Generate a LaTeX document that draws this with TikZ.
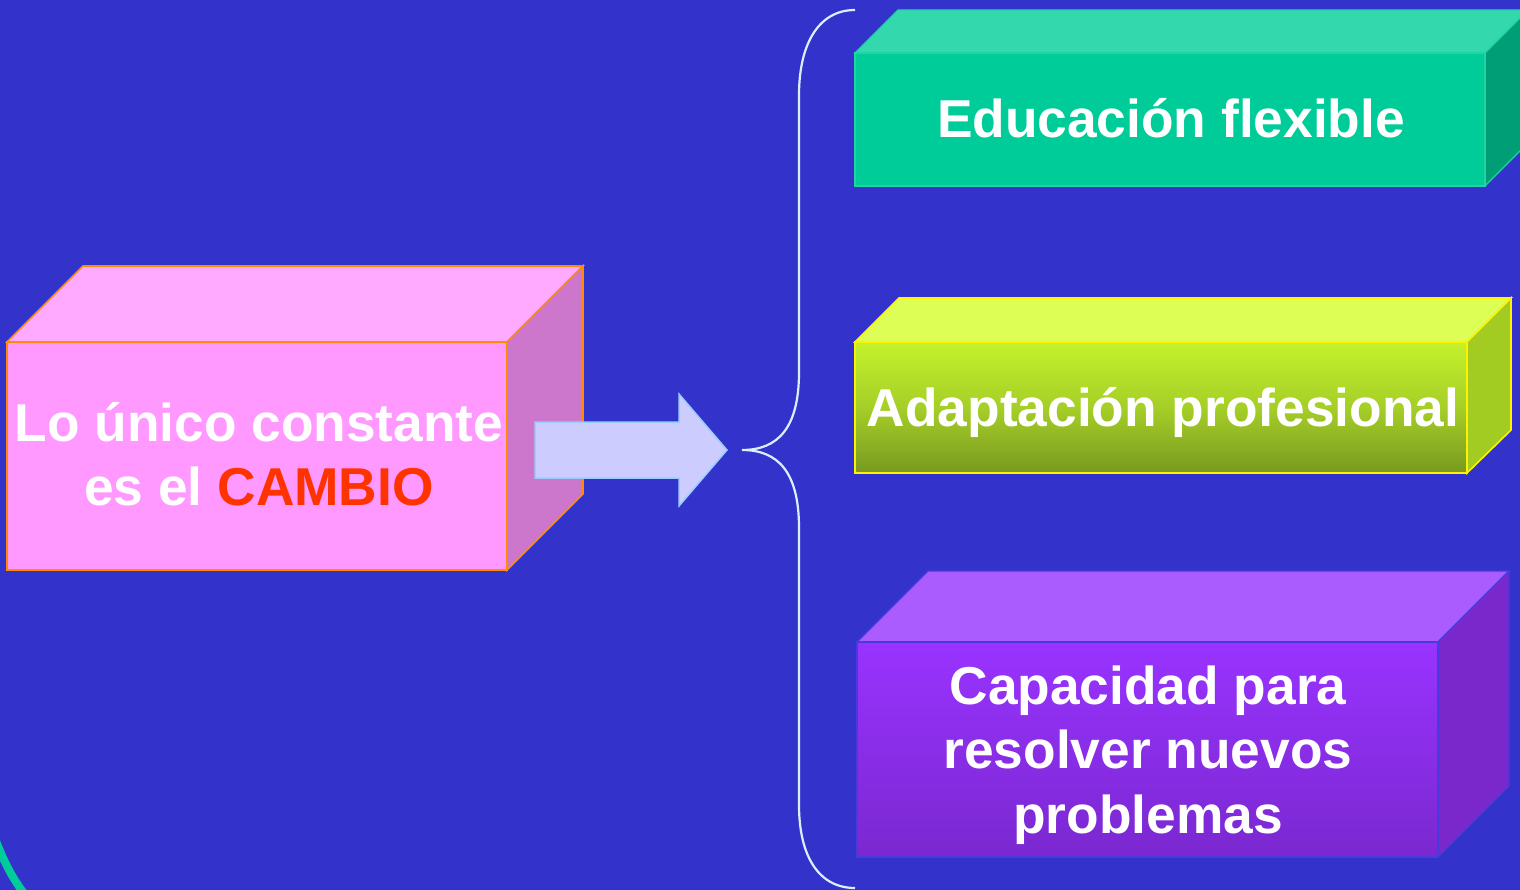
\documentclass[tikz,border=0pt]{standalone}
\usepackage{fontspec}
\setmainfont{Liberation Sans}
\begin{document}
\begin{tikzpicture}[x=1pt,y=-1pt,
  boxtext/.style={font=\fontsize{53.3}{64.5}\selectfont\bfseries, text=white, align=center},
  pinkedge/.style={draw=orange!90!yellow, line width=1.6pt, line join=miter},
  tealedge/.style={draw=teal1edge, line width=1.2pt},
  limeedge/.style={draw=yellow, line width=1.6pt},
  purpedge/.style={draw=purpedgec, line width=1.2pt},
  bracestyle/.style={draw=bracec, line width=2.2pt},
]
\definecolor{bg}{HTML}{3333CC}
\definecolor{pinkfront}{HTML}{FF99FF}
\definecolor{pinktop}{HTML}{FFAAFF}
\definecolor{pinkside}{HTML}{CC77CC}
\definecolor{tealfront}{HTML}{00CC99}
\definecolor{tealtop}{HTML}{33D9AD}
\definecolor{tealside}{HTML}{009E77}
\definecolor{teal1edge}{HTML}{22D4A4}
\definecolor{limetop}{HTML}{DDFF55}
\definecolor{limeside}{HTML}{A2CC22}
\definecolor{limehi}{HTML}{C4F22C}
\definecolor{limelo}{HTML}{789920}
\definecolor{purptop}{HTML}{AA5CFF}
\definecolor{purpside}{HTML}{7A28CC}
\definecolor{purphi}{HTML}{9933FF}
\definecolor{purplo}{HTML}{7A28D0}
\definecolor{purpedgec}{HTML}{4A3ADD}
\definecolor{arrowfill}{HTML}{CCCCFF}
\definecolor{arrowedge}{HTML}{99CCFF}
\definecolor{bracec}{HTML}{DDEEFF}
\definecolor{camb}{HTML}{FF3300}

\fill[bg] (0,0) rectangle (1520,890);
\useasboundingbox (0,0) rectangle (1520,890);
\clip (0,0) rectangle (1520,890);

% teal arc bottom-left
\draw[tealfront, line width=8pt] (-6,836) .. controls (4,862) and (12,878) .. (26,896);

% ---- left pink box ----
\coordinate (Lnw) at (7,342);
\coordinate (Lne) at (507,342);
\coordinate (Lse) at (507,570);
\filldraw[pinkedge, fill=pinktop] (Lnw) -- (83,266) -- (583,266) -- (Lne) -- cycle;
\filldraw[pinkedge, fill=pinkside] (Lne) -- (583,266) -- (583,494) -- (Lse) -- cycle;
\filldraw[pinkedge, fill=pinkfront] (Lnw) rectangle (Lse);
\node[boxtext] (Ltext) at (259,454)
  {Lo único constante\\es el \textcolor{camb}{CAMBIO}};

% ---- arrow ----
\filldraw[fill=arrowfill, draw=arrowedge, line width=1.5pt, line join=miter]
  (535,422) -- (679,422) -- (679,394) -- (727,450) -- (679,506) -- (679,478) -- (535,478) -- cycle;

% ---- brace ----
\coordinate (Btop) at (855,10);
\coordinate (Btip) at (742,450);
\coordinate (Bbot) at (855,888);
\draw[bracestyle] (Btop) .. controls (818,10) and (799,45) .. (799,95)
  -- (799,372) .. controls (799,428) and (778,450) .. (Btip)
  .. controls (778,450) and (799,472) .. (799,528)
  -- (799,805) .. controls (799,855) and (818,888) .. (Bbot);

% ---- top teal box ----
\filldraw[tealedge, fill=tealtop] (855,53) -- (898,10) -- (1528,10) -- (1485,53) -- cycle;
\filldraw[tealedge, fill=tealside] (1485,53) -- (1528,10) -- (1528,143) -- (1485,186) -- cycle;
\filldraw[tealedge, fill=tealfront] (855,53) rectangle (1485,186);
\node[boxtext] (Ttext) at (1171,118) {Educación flexible};

% ---- middle lime box ----
\filldraw[limeedge, fill=limetop] (855,342) -- (899,298) -- (1511,298) -- (1467,342) -- cycle;
\filldraw[limeedge, fill=limeside] (1467,342) -- (1511,298) -- (1511,430) -- (1467,473) -- cycle;
\shade[top color=limehi, bottom color=limelo, middle color=limehi!60!limelo] (855,342) rectangle (1467,473);
\draw[limeedge] (855,342) rectangle (1467,473);
\node[boxtext] (Mtext) at (1163,412) {Adaptación profesional};

% ---- bottom purple box ----
\filldraw[purpedge, fill=purptop] (857,642) -- (928,571) -- (1509,571) -- (1438,642) -- cycle;
\filldraw[purpedge, fill=purpside] (1438,642) -- (1509,571) -- (1509,786) -- (1438,857) -- cycle;
\shade[top color=purphi, bottom color=purplo] (857,642) rectangle (1438,857);
\draw[purpedge] (857,642) rectangle (1438,857);
\node[boxtext] (Ptext) at (1148,755)
  {Capacidad para\\resolver nuevos\\problemas};
\end{tikzpicture}
\end{document}
